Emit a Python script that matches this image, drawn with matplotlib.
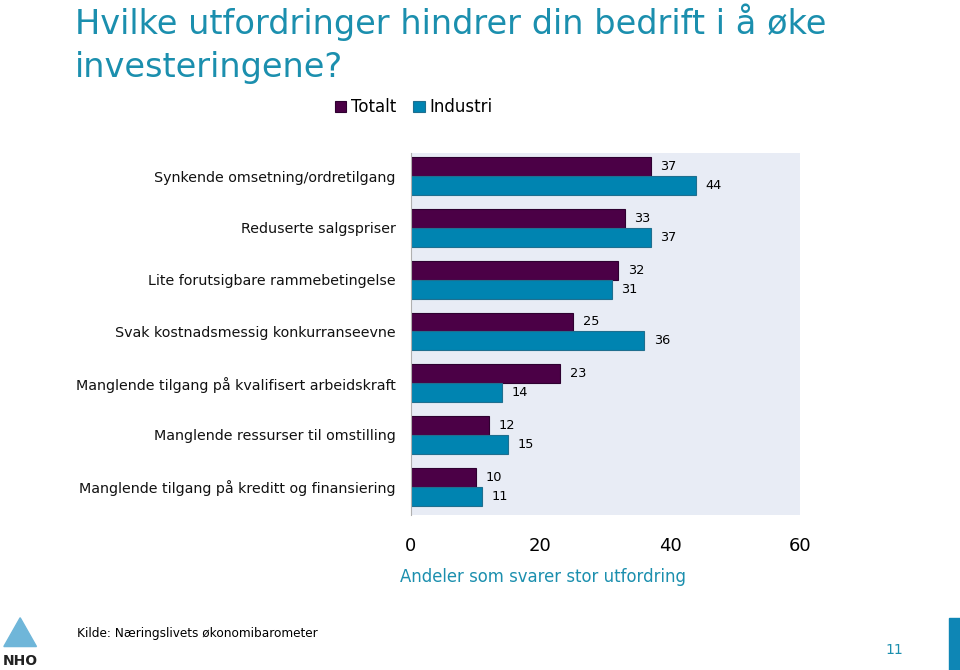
import matplotlib.pyplot as plt
import matplotlib.patches as mpatches
import numpy as np

categories = ['Synkende omsetning/ordretilgang', 'Reduserte salgspriser',
              'Lite forutsigbare rammebetingelse', 'Svak kostnadsmessig konkurranseevne',
              'Manglende tilgang på kvalifisert arbeidskraft', 'Manglende ressurser til omstilling',
              'Manglende tilgang på kreditt og finansiering']
totalt = [37, 33, 32, 25, 23, 12, 10]
industri = [44, 37, 31, 36, 14, 15, 11]
ticks = [0, 20, 40, 60]

purple = '#4b0046'
teal = '#0084b1'
title_col = '#1b8fae'

fig = plt.figure(figsize=(9.6, 6.7), dpi=100)
ax = fig.add_axes([0.428, 0.231, 0.405, 0.541])
ax.set_facecolor('#e8ecf5')

y = np.arange(len(categories))
h = 0.365
b1 = ax.barh(y - h / 2, totalt, h, color=purple, edgecolor='#2e0030', linewidth=0.8, label='Totalt')
b2 = ax.barh(y + h / 2, industri, h, color=teal, edgecolor='#1f6f8f', linewidth=0.8, label='Industri')
for bars in (b1, b2):
    for bar in bars:
        ax.annotate(f'{bar.get_width():.0f}', (bar.get_width(), bar.get_y() + bar.get_height() / 2),
                    xytext=(7, 0), textcoords='offset points', va='center', ha='left', fontsize=9.3)

ax.set_xlim(0, 60)
ax.set_ylim(len(categories) - 0.45, -0.45)
ax.set_xticks(ticks)
ax.set_xticklabels([str(t) for t in ticks], fontsize=13)
ax.tick_params(axis='x', length=0, pad=16)
ax.set_yticks(y)
ax.set_yticklabels(categories, fontsize=10.3, color='#111111')
ax.tick_params(axis='y', length=0, pad=11)
for s in ['top', 'right', 'bottom']:
    ax.spines[s].set_visible(False)
ax.spines['left'].set_color('#b0b0b0')
ax.set_xlabel('Andeler som svarer stor utfordring', fontsize=11.9, color=title_col, labelpad=9, x=0.34)

fig.text(0.078, 0.995, 'Hvilke utfordringer hindrer din bedrift i å øke\ninvesteringene?',
         fontsize=24.2, color=title_col, va='top', ha='left', linespacing=1.38)

fig.legend(handles=[b1, b2], loc='center', bbox_to_anchor=(0.431, 0.84), ncol=2, frameon=False,
           fontsize=12, handlelength=0.7, handleheight=0.7, handletextpad=0.3, columnspacing=1.0)

fig.text(0.08, 0.055, 'Kilde: Næringslivets økonomibarometer', fontsize=8.7, va='center')
fig.text(0.922, 0.03, '11', fontsize=10, color=title_col, va='center')
fig.patches.append(mpatches.Rectangle((0.989, 0.0), 0.011, 0.077, transform=fig.transFigure,
                                      color='#0e86b5', figure=fig))
# simple NHO mark
fig.patches.append(mpatches.Polygon([[0.004, 0.035], [0.021, 0.078], [0.038, 0.035]], closed=True,
                                    transform=fig.transFigure, color='#6fb6d9', figure=fig))
fig.text(0.021, 0.013, 'NHO', fontsize=10, ha='center', va='center', fontweight='bold', color='#222222')

fig.savefig('out.png', dpi=100)
